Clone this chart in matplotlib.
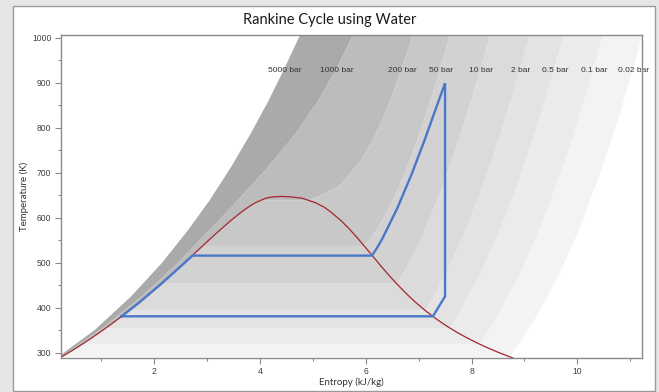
import numpy as np
import matplotlib
matplotlib.use("Agg")
import matplotlib.pyplot as plt
from matplotlib.patches import Rectangle
from matplotlib.ticker import MultipleLocator

# saturation dome of water: T (K), entropy of sat. liquid / sat. vapour (kJ/kg K)
sat_T = [288.15, 293.15, 303.15, 313.15, 323.15, 333.15, 343.15, 353.15, 363.15,
         373.15, 393.15, 413.15, 433.15, 453.15, 473.15, 493.15, 513.15, 533.15,
         553.15, 573.15, 593.15, 613.15, 623.15, 633.15, 643.15, 645.15, 646.15]
sat_sf = [0.2245, 0.2966, 0.4369, 0.5724, 0.7038, 0.8313, 0.9551, 1.0756, 1.1929,
          1.3072, 1.5279, 1.7392, 1.9426, 2.1392, 2.3305, 2.5177, 2.7020, 2.8838,
          3.0668, 3.2548, 3.4495, 3.6605, 3.7800, 3.9167, 4.1112, 4.19, 4.26]
sat_sg = [8.7803, 8.6660, 8.4520, 8.2555, 8.0748, 7.9081, 7.7540, 7.6111, 7.4781,
          7.3541, 7.1292, 6.9294, 6.7502, 6.5857, 6.4302, 6.2840, 6.1423, 6.0010,
          5.8565, 5.7049, 5.5372, 5.3359, 5.2177, 5.0536, 4.8012, 4.65, 4.57]
crit_T = 647.1
crit_s = 4.407

# supercritical isobars
p5000_T = [288, 299, 351, 425, 499, 573, 638, 713, 787, 861, 935, 1006]
p5000_s = [0.15, 0.29, 0.89, 1.57, 2.15, 2.65, 3.05, 3.46, 3.83, 4.17, 4.48, 4.76]
p1000_T = [288, 300, 351, 425, 499, 573, 638, 713, 787, 861, 935, 1006]
p1000_s = [0.21, 0.37, 0.99, 1.77, 2.45, 3.06, 3.58, 4.16, 4.68, 5.11, 5.47, 5.76]

# subcritical isobars: saturation (T, sf, sg) and superheated part
p200_sat = (638.9, 4.015, 4.927)
p200_T = [645, 652, 660, 673.15, 723.15, 773.15, 823.15, 873.15, 973.15, 1006]
p200_s = [5.06, 5.19, 5.33, 5.52, 5.89, 6.140, 6.335, 6.505, 6.799, 6.89]
p50_sat = (537.1, 2.921, 5.974)
p50_T = [573.15, 623.15, 673.15, 723.15, 773.15, 873.15, 973.15, 1006]
p50_s = [6.211, 6.452, 6.648, 6.821, 6.978, 7.261, 7.514, 7.59]
p10_sat = (453.0, 2.138, 6.585)
p10_T = [473.15, 523.15, 573.15, 673.15, 773.15, 873.15, 973.15, 1006]
p10_s = [6.696, 6.927, 7.125, 7.467, 7.764, 8.031, 8.276, 8.35]
p2_sat = (393.4, 1.530, 7.127)
p2_T = [423.15, 473.15, 573.15, 673.15, 773.15, 873.15, 973.15, 1006]
p2_s = [7.281, 7.508, 7.894, 8.224, 8.515, 8.779, 9.022, 9.10]
p05_sat = (354.5, 1.091, 7.593)
p05_T = [373.15, 473.15, 573.15, 673.15, 773.15, 873.15, 973.15, 1006]
p05_s = [7.695, 8.159, 8.540, 8.868, 9.158, 9.422, 9.664, 9.74]
p01_sat = (319.0, 0.649, 8.149)
p01_T = [373.15, 473.15, 573.15, 673.15, 773.15, 873.15, 973.15, 1006]
p01_s = [8.449, 8.905, 9.283, 9.609, 9.900, 10.163, 10.406, 10.48]
p002_sat = (290.65, 0.261, 8.724)
p002_T = [300, 373.15, 473.15, 573.15, 673.15, 773.15, 873.15, 973.15, 1006]
p002_s = [8.78, 9.19, 9.65, 10.03, 10.35, 10.64, 10.91, 11.15, 11.22]

p_labels = ["5000 bar", "1000 bar", "200 bar", "50 bar", "10 bar",
            "2 bar", "0.5 bar", "0.1 bar", "0.02 bar"]

# Rankine cycle (blue)
cycle_s = [1.39, 1.74, 2.14, 2.49, 2.73, 6.12, 6.20, 6.31, 6.60, 6.865, 7.105, 7.33, 7.50, 7.50, 7.27, 1.39]
cycle_T = [380.7, 413, 453, 490, 515.6, 515.6, 530, 552, 621.5, 695.6, 769.6, 843.7, 899, 425, 380.7, 380.7]


def subcritical(sat, sup_T, sup_s):
    t_sat, sf, sg = sat
    T = [t for t in sat_T if t < t_sat]
    s = [v for t, v in zip(sat_T, sat_sf) if t < t_sat]
    return np.array(s + [sf, sg] + sup_s), np.array(T + [t_sat, t_sat] + sup_T)


isobars = [
    (np.array(p5000_s), np.array(p5000_T)),
    (np.array(p1000_s), np.array(p1000_T)),
    subcritical(p200_sat, p200_T, p200_s),
    subcritical(p50_sat, p50_T, p50_s),
    subcritical(p10_sat, p10_T, p10_s),
    subcritical(p2_sat, p2_T, p2_s),
    subcritical(p05_sat, p05_T, p05_s),
    subcritical(p01_sat, p01_T, p01_s),
    subcritical(p002_sat, p002_T, p002_s),
]

band_colors = ["#aaaaaa", "#bcbcbc", "#c8c8c8", "#d2d2d2",
               "#dbdbdb", "#e3e3e3", "#ebebeb", "#f3f3f3"]

fig = plt.figure(figsize=(6.59, 3.92), dpi=100, facecolor="#e6e6e6")
fig.patches.append(Rectangle((13 / 659, 1 / 392), 642 / 659, 385 / 392,
                             transform=fig.transFigure, facecolor="white",
                             edgecolor="#9a9a9a", lw=1.0, zorder=-10))
ax = fig.add_axes([60.5 / 659, 34 / 392, 581.5 / 659, 323 / 392])
ax.set_zorder(2)
ax.set_facecolor("white")

for i in range(len(isobars) - 1):
    sa, Ta = isobars[i]
    sb, Tb = isobars[i + 1]
    ax.fill(np.concatenate([sa, sb[::-1]]), np.concatenate([Ta, Tb[::-1]]),
            color=band_colors[i], lw=0, zorder=1)

# dome
dome_s = sat_sf + [crit_s] + sat_sg[::-1]
dome_T = sat_T + [crit_T] + sat_T[::-1]
ax.plot(dome_s, dome_T, color="#a3272d", lw=0.9, zorder=3)

ax.plot(cycle_s, cycle_T, color="#4a78c8", lw=1.7, zorder=4, solid_joinstyle="miter")

label_T = 928
for (s, T), lab in zip(isobars, p_labels):
    ax.text(np.interp(label_T, T, s) + 0.02, label_T, lab, ha="center", va="center",
            fontsize=6, color="#333333", family="Liberation Sans", zorder=5)

ax.set_xlim(0.236, 11.22)
ax.set_ylim(288, 1006)
ax.xaxis.set_major_locator(MultipleLocator(2))
ax.xaxis.set_minor_locator(MultipleLocator(1))
ax.yaxis.set_major_locator(MultipleLocator(100))
ax.yaxis.set_minor_locator(MultipleLocator(50))
ax.tick_params(which="both", direction="out", color="#8a8a8a", labelsize=6.2,
               labelcolor="#404040", pad=2)
ax.tick_params(which="major", length=4.5, width=0.8)
ax.tick_params(which="minor", length=2.5, width=0.8)
for lab in ax.get_xticklabels() + ax.get_yticklabels():
    lab.set_family("Liberation Sans")
for sp in ax.spines.values():
    sp.set_color("#8a8a8a")
    sp.set_linewidth(1.0)
    sp.set_zorder(6)

ax.set_xlabel("Entropy (kJ/kg)", fontsize=7, family="Lato", color="#333333", labelpad=1)
ax.set_ylabel("Temperature (K)", fontsize=7, family="Lato", color="#333333", labelpad=2)
fig.text(0.5, 1 - 20 / 392, "Rankine Cycle using Water", ha="center", va="center",
         fontsize=10.5, family="Lato", color="#1a1a1a")

fig.savefig("out.png", dpi=100, facecolor=fig.get_facecolor())
